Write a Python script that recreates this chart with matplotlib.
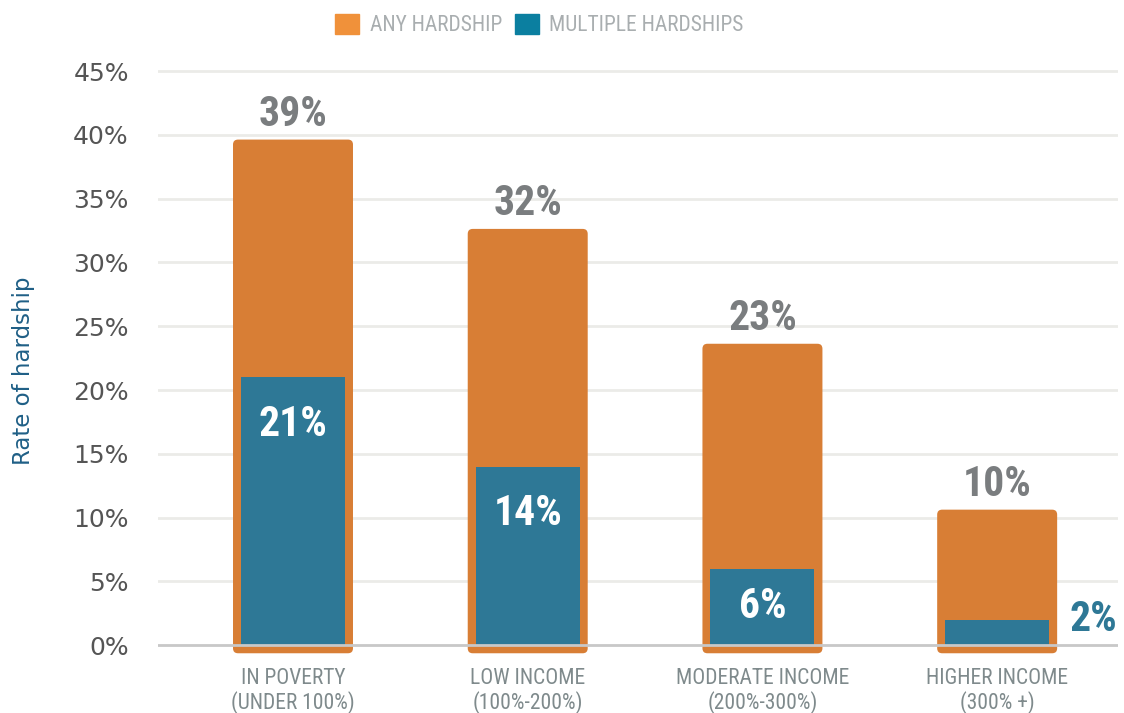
import matplotlib
matplotlib.use("Agg")
import matplotlib.pyplot as plt
from matplotlib.patches import FancyBboxPatch, Patch
from matplotlib import font_manager
from matplotlib.font_manager import FontProperties

# Data
categories = ["IN POVERTY\n(UNDER 100%)", "LOW INCOME\n(100%-200%)",
              "MODERATE INCOME\n(200%-300%)", "HIGHER INCOME\n(300% +)"]
any_hardship = [39, 32, 23, 10]
multiple_hardships = [21, 14, 6, 2]
yticks = [0, 5, 10, 15, 20, 25, 30, 35, 40, 45]

ORANGE = "#d87e35"
TEAL = "#2e7896"
GREY_VAL = "#7a7d7f"


# look for a condensed / narrow font file, else plain DejaVu Sans
def find_font(bold):
    files = sorted(f.fname for f in font_manager.fontManager.ttflist)
    for key in ["RobotoCondensed", "LiberationSansNarrow", "DejaVuSansCondensed",
                "OpenSansCondensed", "NotoSansCondensed", "Condensed", "Narrow"]:
        for fn in files:
            base = fn.split("/")[-1]
            if key not in base:
                continue
            isbold = "Bold" in base and "SemiBold" not in base and "ExtraBold" not in base
            if isbold == bold and "Italic" not in base and "Oblique" not in base:
                return fn
    return None


def fp(size, bold=False):
    fn = find_font(bold)
    if fn:
        return FontProperties(fname=fn, size=size)
    return FontProperties(family="DejaVu Sans", size=size,
                          weight="bold" if bold else "normal")


fig = plt.figure(figsize=(11.24, 7.13), dpi=100)
ax = fig.add_axes([0.1406, 0.0771, 0.8541, 0.8591])

x = list(range(len(categories)))
width = 0.443
ax.set_xlim(-0.575, 3.515)
ax.set_ylim(-1.0, 47)

# aspect between y and x data units per pixel
px_x = 1 / 234.7
px_y = 48 / 612.5
aspect = px_y / px_x
pad = 8 * px_x

for xi, v in zip(x, any_hardship):
    box = FancyBboxPatch((xi - width / 2, 0), width, v,
                         boxstyle=f"round,pad={pad},rounding_size={5 * px_x}",
                         mutation_aspect=aspect, fc=ORANGE, ec="none", zorder=2)
    ax.add_patch(box)
    ax.annotate(f"{v}%", (xi, v), xytext=(0, 24), textcoords="offset points",
                ha="center", va="center", fontproperties=fp(30, True),
                color=GREY_VAL, zorder=5)

ax.bar(x, multiple_hardships, width=width, color=TEAL, zorder=3)
for xi, v in zip(x, multiple_hardships):
    if v < 4:
        ax.annotate(f"{v}%", (xi + width / 2 + pad, v), xytext=(9, 0),
                    textcoords="offset points", ha="left", va="center",
                    fontproperties=fp(30, True), color=TEAL)
    elif v < 10:
        ax.text(xi, v / 2, f"{v}%", ha="center", va="center",
                fontproperties=fp(30, True), color="white", zorder=5)
    else:
        ax.annotate(f"{v}%", (xi, v), xytext=(0, -34), textcoords="offset points",
                    ha="center", va="center", fontproperties=fp(30, True),
                    color="white", zorder=5)

# grid and zero line
for t in yticks[1:]:
    ax.axhline(t, color="#ebebe8", lw=2, zorder=1)
ax.axhline(0, color="#c8c8c8", lw=2, zorder=4)

ax.set_yticks(yticks)
ax.set_yticklabels([f"{t}%" for t in yticks], fontsize=18, color="#555555")
ax.set_xticks(x)
ax.set_xticklabels(categories, fontproperties=fp(15.5), color="#7f8a8c",
                   linespacing=1.1)
ax.tick_params(axis="y", length=0, pad=21)
ax.tick_params(axis="x", length=0, pad=7)
for s in ax.spines.values():
    s.set_visible(False)

fig.text(0.021, 0.48, "Rate of hardship", rotation=90, ha="center", va="center",
         fontsize=16.5, color="#1f5f86")

handles = [Patch(color="#f0913a", label="ANY HARDSHIP"),
           Patch(color="#0b7fa0", label="MULTIPLE HARDSHIPS")]
leg = fig.legend(handles=handles, loc="upper center", bbox_to_anchor=(0.48, 1.008),
                 ncol=2, frameon=False, handlelength=1.1, handleheight=1.1,
                 handletextpad=0.5, columnspacing=0.6, prop=fp(15.5))
for t in leg.get_texts():
    t.set_color("#a9aeb0")

fig.savefig("out.png", dpi=100)
